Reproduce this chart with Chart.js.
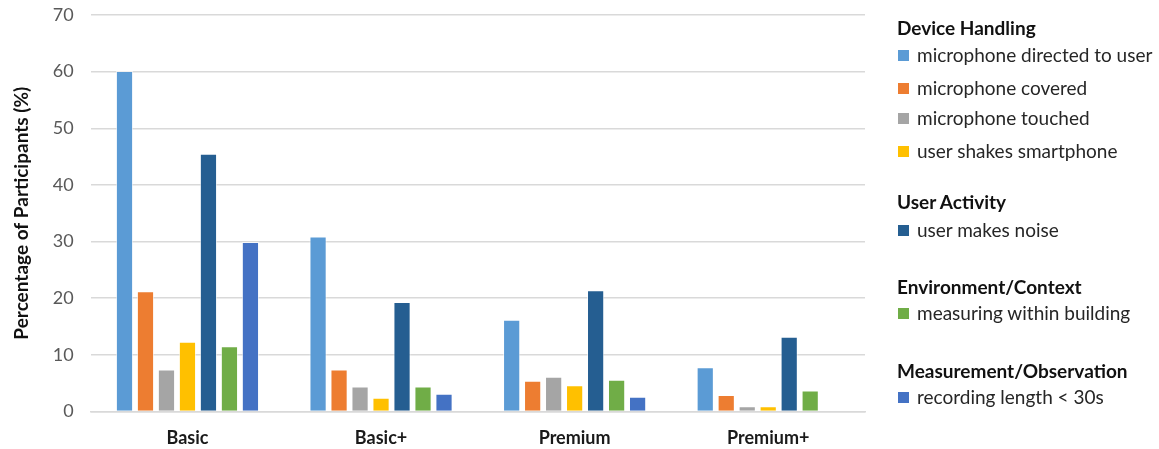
<!DOCTYPE html>
<html>
<head>
<meta charset="utf-8">
<script src="https://cdn.jsdelivr.net/npm/chart.js@4.4.1/dist/chart.umd.min.js"></script>
<style>
  html, body { margin: 0; padding: 0; background: #fff; }
  #wrap { position: relative; width: 1159px; height: 449px; }
  #chart { position: absolute; left: 0; top: 0; }
  #legend { position: absolute; left: 897px; top: 0; font-family: Lato, "Open Sans", sans-serif; color: #262626; }
  #legend .head { position: absolute; white-space: nowrap; font-weight: bold; font-size: 19px; line-height: 23px; color: #111; }
  #legend .item { position: absolute; white-space: nowrap; font-size: 19px; line-height: 23px; }
  #legend .sw { position: absolute; left: 1px; width: 11px; height: 11px; }
  #legend .lbl { position: absolute; left: 20px; top: 0; }
</style>
</head>
<body>
<div id="wrap">
  <canvas id="chart" width="1159" height="449"></canvas>
  <div id="legend"></div>
</div>
<script>
const categories = ["Basic", "Basic+", "Premium", "Premium+"];

const seriesNames = [
  "microphone directed to user",
  "microphone covered",
  "microphone touched",
  "user shakes smartphone",
  "user makes noise",
  "measuring within building",
  "recording length < 30s"
];

const seriesColors = ["#5B9BD5", "#ED7D31", "#A5A5A5", "#FFC000", "#255E91", "#70AD47", "#4472C4"];

// percentage of participants per plan
const micDirected   = [60.1, 30.9, 16.2, 7.8];
const micCovered    = [21.2, 7.4, 5.4, 2.9];
const micTouched    = [7.4, 4.4, 6.1, 0.9];
const userShakes    = [12.3, 2.4, 4.6, 0.9];
const userNoise     = [45.5, 19.3, 21.4, 13.2];
const inBuilding    = [11.5, 4.4, 5.6, 3.7];
const shortRecord   = [29.9, 3.1, 2.6, 0];

const seriesValues = [micDirected, micCovered, micTouched, userShakes, userNoise, inBuilding, shortRecord];

// legend groups: heading + indices of the series listed under it
const legendGroups = [
  { title: "Device Handling", series: [0, 1, 2, 3] },
  { title: "User Activity", series: [4] },
  { title: "Environment/Context", series: [5] },
  { title: "Measurement/Observation", series: [6] }
];

const yTicks = [0, 10, 20, 30, 40, 50, 60, 70];

const datasets = seriesNames.map((name, i) => ({
  label: name,
  data: seriesValues[i],
  backgroundColor: seriesColors[i],
  borderColor: "rgba(255,255,255,0.6)",
  borderWidth: 1,
  categoryPercentage: 0.759,
  barPercentage: 0.82
}));

new Chart(document.getElementById("chart"), {
  type: "bar",
  data: { labels: categories, datasets },
  options: {
    responsive: false,
    animation: false,
    layout: { padding: { left: 0, right: 294, top: 15, bottom: -16 } },
    plugins: { legend: { display: false }, tooltip: { enabled: false } },
    scales: {
      x: {
        grid: { display: false, drawTicks: false },
        border: { color: "#d9d9d9", width: 1.5 },
        ticks: { color: "#1a1a1a", padding: 16, font: { family: "Lato", size: 18, weight: "bold" } }
      },
      y: {
        min: 0, max: 70,
        afterBuildTicks: (axis) => { axis.ticks = yTicks.map(v => ({ value: v })); },
        // invisible tick marks keep a gap between the labels and the gridlines
        grid: { color: "#d9d9d9", lineWidth: 1.5, drawTicks: true, tickLength: 17, tickColor: "rgba(0,0,0,0)" },
        border: { display: false },
        ticks: { color: "#595959", padding: 0, font: { family: "Lato", size: 18 } },
        title: {
          display: true,
          text: "Percentage of Participants (%)",
          color: "#111",
          padding: { top: 10, bottom: 20 },
          font: { family: "Lato", size: 19, weight: "bold" }
        }
      }
    }
  }
});

// grouped legend built from the dataset names and colours
const legend = document.getElementById("legend");
const headTops = [16, 190, 275, 359];
const itemTops = [[43, 76, 106, 139], [218], [301], [385]];
legendGroups.forEach((g, gi) => {
  const h = document.createElement("div");
  h.className = "head";
  h.style.top = headTops[gi] + "px";
  h.textContent = g.title;
  legend.appendChild(h);
  g.series.forEach((si, k) => {
    const it = document.createElement("div");
    it.className = "item";
    it.style.top = itemTops[gi][k] + "px";
    const sw = document.createElement("span");
    sw.className = "sw";
    sw.style.top = "7px";
    sw.style.background = seriesColors[si];
    const lb = document.createElement("span");
    lb.className = "lbl";
    lb.textContent = seriesNames[si];
    it.appendChild(sw);
    it.appendChild(lb);
    legend.appendChild(it);
  });
});
</script>
</body>
</html>
